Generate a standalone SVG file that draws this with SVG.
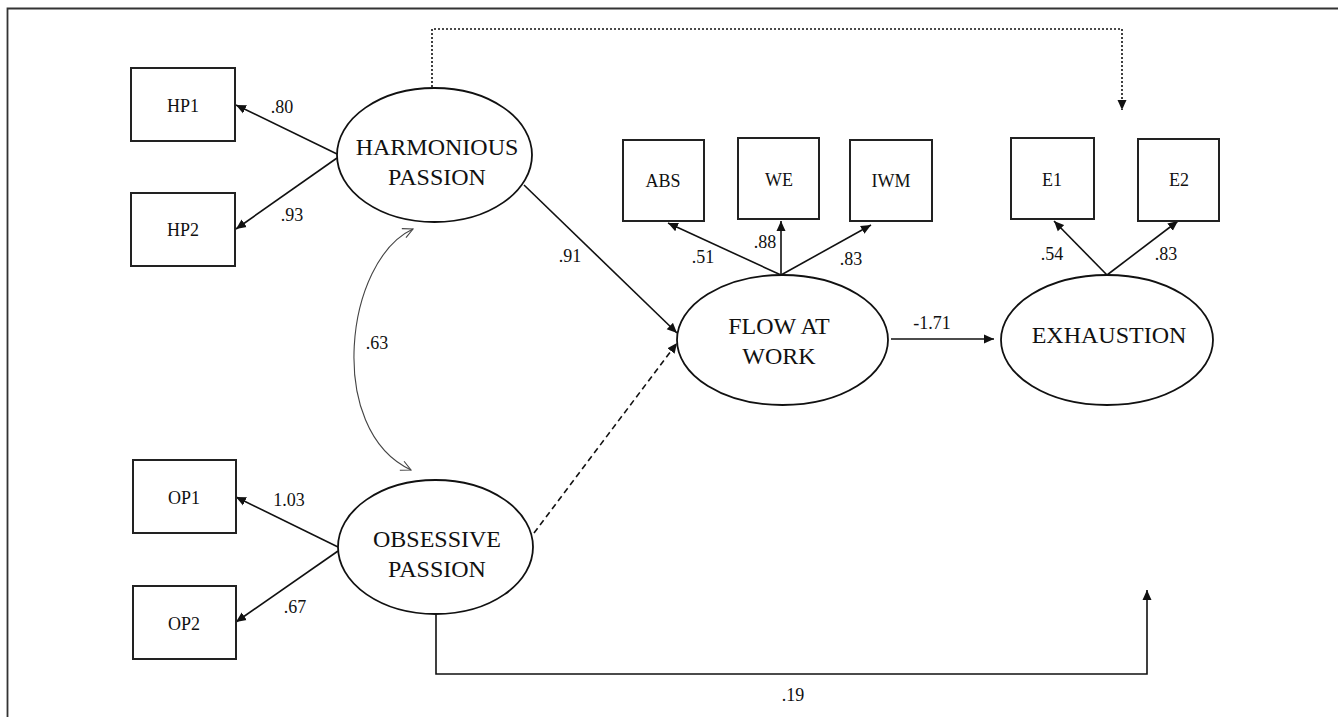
<svg xmlns="http://www.w3.org/2000/svg" width="1338" height="717" viewBox="0 0 1338 717">
<defs>
<marker id="ah" viewBox="0 0 10 10" refX="10" refY="5" markerWidth="10" markerHeight="10" markerUnits="userSpaceOnUse" orient="auto"><path d="M0,0.5 L10,5 L0,9.5 z" fill="#111"/></marker>
<marker id="oh" viewBox="0 0 12 12" refX="11" refY="6" markerWidth="12" markerHeight="12" markerUnits="userSpaceOnUse" orient="auto-start-reverse"><path d="M1,1 L11,6 L1,11" fill="none" stroke="#444" stroke-width="1.1"/></marker>
<style>
.box{fill:#fff;stroke:#222;stroke-width:2}
.ell{fill:#fff;stroke:#111;stroke-width:1.8}
text{font-family:'Liberation Serif','Times New Roman','DejaVu Serif',serif;fill:#111;text-anchor:middle}
.sm{font-size:18px}
.lg{font-size:24px}
.ar{fill:none;stroke:#111;stroke-width:1.6;marker-end:url(#ah)}
</style>
</defs>
<rect width="1338" height="717" fill="#fff"/>
<path d="M7.5,717 V8.5 H1338" fill="none" stroke="#333" stroke-width="1.8"/>

<g id="connectors" font-family="Liberation Serif, serif">
<line class="ar" x1="337" y1="154" x2="236" y2="105"/>
<line class="ar" x1="337" y1="158" x2="236" y2="229"/>
<line class="ar" x1="338" y1="547" x2="236" y2="497"/>
<line class="ar" x1="338" y1="551" x2="236" y2="622"/>
<line class="ar" x1="524" y1="185" x2="677" y2="333"/>
<line class="ar" x1="534" y1="533" x2="677" y2="343" stroke-dasharray="6 4"/>
<line class="ar" x1="781" y1="275" x2="668" y2="223"/>
<line class="ar" x1="781" y1="275" x2="781" y2="221"/>
<line class="ar" x1="781" y1="275" x2="871" y2="225"/>
<line class="ar" x1="1107" y1="275" x2="1054" y2="221"/>
<line class="ar" x1="1107" y1="275" x2="1178" y2="221"/>
<line class="ar" x1="891" y1="339" x2="994" y2="339"/>
<path class="ar" d="M432,87 V29 H1122 V110" stroke="#444" stroke-width="1.4" stroke-dasharray="2 2"/>
<path class="ar" d="M436,614 V674 H1147 V590" stroke="#555" stroke-width="1.3"/>
<path d="M413,229 C345,260 325,430 411,470" fill="none" stroke="#444" stroke-width="1.1" marker-start="url(#oh)" marker-end="url(#oh)"/>
<text class="sm" x="282" y="113">.80</text>
<text class="sm" x="292" y="221">.93</text>
<text class="sm" x="289" y="506">1.03</text>
<text class="sm" x="295" y="613">.67</text>
<text class="sm" x="570" y="262">.91</text>
<text class="sm" x="377" y="349">.63</text>
<text class="sm" x="703" y="263">.51</text>
<text class="sm" x="765" y="248">.88</text>
<text class="sm" x="851" y="265">.83</text>
<text class="sm" x="1052" y="260">.54</text>
<text class="sm" x="1166" y="260">.83</text>
<text class="sm" x="932" y="329">-1.71</text>
<text class="sm" x="793" y="701">.19</text>
</g>

<g id="HP1"><rect class="box" x="131" y="68" width="104" height="73"/><text class="sm" x="183" y="112">HP1</text></g>
<g id="HP2"><rect class="box" x="131" y="193" width="104" height="73"/><text class="sm" x="183" y="236">HP2</text></g>
<g id="OP1"><rect class="box" x="133" y="460" width="103" height="73"/><text class="sm" x="184" y="504">OP1</text></g>
<g id="OP2"><rect class="box" x="133" y="586" width="103" height="73"/><text class="sm" x="184" y="630">OP2</text></g>
<g id="HP"><ellipse class="ell" cx="434.5" cy="155" rx="97.5" ry="67"/><text class="lg" x="437" y="155">HARMONIOUS</text><text class="lg" x="437" y="185">PASSION</text></g>
<g id="OP"><ellipse class="ell" cx="435.5" cy="547" rx="97.5" ry="67"/><text class="lg" x="437" y="547">OBSESSIVE</text><text class="lg" x="437" y="577">PASSION</text></g>
<g id="ABS"><rect class="box" x="623" y="140" width="81" height="81"/><text class="sm" x="663" y="187">ABS</text></g>
<g id="WE"><rect class="box" x="738" y="138" width="81" height="81"/><text class="sm" x="779" y="186">WE</text></g>
<g id="IWM"><rect class="box" x="850" y="140" width="82" height="81"/><text class="sm" x="891" y="187">IWM</text></g>
<g id="E1"><rect class="box" x="1011" y="138" width="83" height="81"/><text class="sm" x="1052" y="186">E1</text></g>
<g id="E2"><rect class="box" x="1138" y="139" width="81" height="82"/><text class="sm" x="1179" y="186">E2</text></g>
<g id="FLOW"><ellipse class="ell" cx="782.5" cy="340" rx="105.5" ry="65"/><text class="lg" x="779" y="334">FLOW AT</text><text class="lg" x="779" y="364">WORK</text></g>
<g id="EXH"><ellipse class="ell" cx="1107" cy="340" rx="106" ry="65"/><text class="lg" x="1109" y="343">EXHAUSTION</text></g>
</svg>
